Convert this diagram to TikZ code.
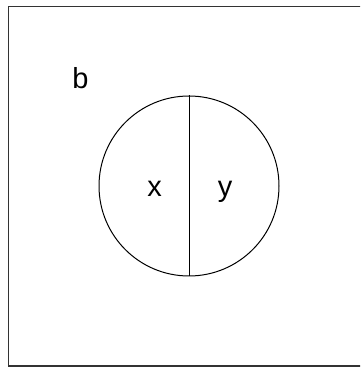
\documentclass[tikz,border=0pt]{standalone}
\usepackage{fontspec}
\setmainfont{Liberation Sans}
\begin{document}
\begin{tikzpicture}[x=1pt,y=1pt,
  lbl/.style={font=\fontsize{29}{34}\selectfont, inner sep=0pt, anchor=base},
  edge/.style={draw=black, line width=1pt}]
\useasboundingbox (0,0) rectangle (360,367);
\begin{scope}
\clip (0,0) rectangle (360,367);
\draw[edge, draw=black!80, line width=1.3pt] (8.5,360.5) rectangle (362,1);
\end{scope}
\node[circle, edge, minimum size=180pt, inner sep=0pt] (c) at (189,181) {};
\draw[edge] (c.north) -- (c.south);
\node[lbl] (b) at (80.5,278) {b};
\node[lbl] (x) at (154.5,170) {x};
\node[lbl] (y) at (225,170) {y};
\end{tikzpicture}
\end{document}
